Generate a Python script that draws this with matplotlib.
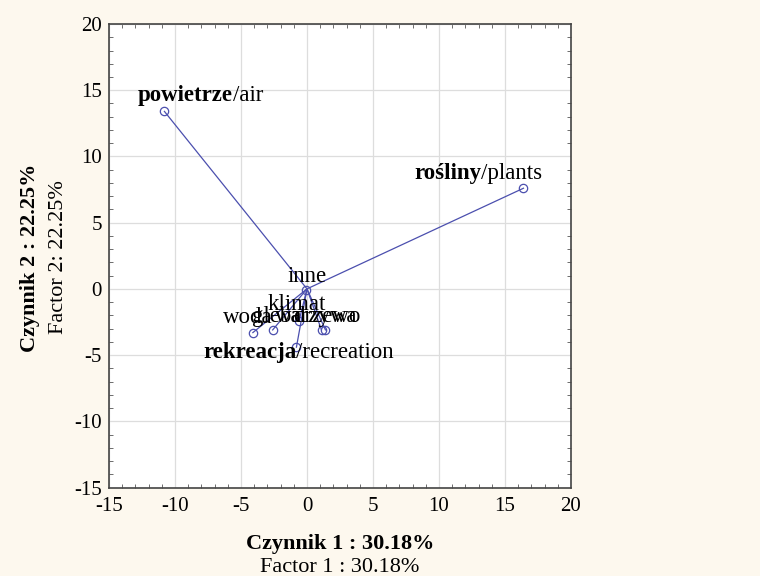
import numpy as np
import matplotlib.pyplot as plt

# factor coordinates of each variable
names = ['powietrze', 'rośliny', 'inne', 'woda', 'gleba', 'klimat', 'rekreacja', 'warzywa', 'drzewo']
english = ['air', 'plants', '', '', '', '', 'recreation', '', '']
fx = [-10.8, 16.4, -0.1, -4.1, -2.6, -0.6, -0.8, 1.1, 1.4]
fy = [13.4, 7.6, -0.1, -3.3, -3.1, -2.4, -4.4, -3.1, -3.1]

# where each label is anchored (split point between the bold and plain part)
lab_x = [-5.6, 13.2, 0.0, -4.5, -2.3, -0.8, -0.8, 0.7, 1.5]
lab_y = [14.2, 8.3, 0.5, -2.6, -2.5, -1.6, -5.2, -2.5, -2.5]

plt.rcParams['font.family'] = ['Liberation Serif', 'DejaVu Serif']
plt.rcParams['axes.unicode_minus'] = False

fig = plt.figure(figsize=(7.6, 5.76), dpi=100, facecolor='#fdf8ee')
ax = fig.add_axes([0.1434, 0.1536, 0.6079, 0.8047], facecolor='white')

line_col = '#4b4fae'
for x, y in zip(fx, fy):
    ax.plot([0, x], [0, y], color=line_col, lw=0.9, zorder=3)
ax.plot(fx, fy, 'o', mfc='none', mec=line_col, ms=6, mew=0.9, zorder=4)

for n, e, x, y in zip(names, english, lab_x, lab_y):
    if e:
        ax.text(x, y, n, fontsize=16.5, weight='bold', ha='right', va='baseline', zorder=5)
        ax.text(x, y, '/' + e, fontsize=16.5, ha='left', va='baseline', zorder=5)
    else:
        ax.text(x, y, n, fontsize=16.5, ha='center', va='baseline', zorder=5)

ax.set_xlim(-15, 20)
ax.set_ylim(-15, 20)
ax.set_xticks(np.arange(-15, 21, 5))
ax.set_yticks(np.arange(-15, 21, 5))
ax.set_xticks(np.arange(-15, 21, 1), minor=True)
ax.set_yticks(np.arange(-15, 21, 1), minor=True)
ax.tick_params(which='major', length=0, labelsize=15)
ax.tick_params(axis='x', which='major', pad=7)
ax.tick_params(axis='y', which='major', pad=5)
ax.tick_params(which='minor', direction='in', length=3, color='#555555',
               top=True, right=True, bottom=True, left=True)
ax.grid(which='major', color='#dddddd', lw=0.9)
ax.set_axisbelow(True)
for s in ax.spines.values():
    s.set_color('#444444')
    s.set_linewidth(1.2)

fig.text(0.447, 0.055, 'Czynnik 1 : 30.18%', fontsize=16, weight='bold', ha='center', va='center')
fig.text(0.447, 0.014, 'Factor 1 : 30.18%', fontsize=16, ha='center', va='center')
fig.text(0.039, 0.553, 'Czynnik 2 : 22.25%', fontsize=16, weight='bold', rotation=90, ha='center', va='center')
fig.text(0.077, 0.553, 'Factor 2: 22.25%', fontsize=16, rotation=90, ha='center', va='center')

plt.savefig('out.png', dpi=100, facecolor=fig.get_facecolor())
